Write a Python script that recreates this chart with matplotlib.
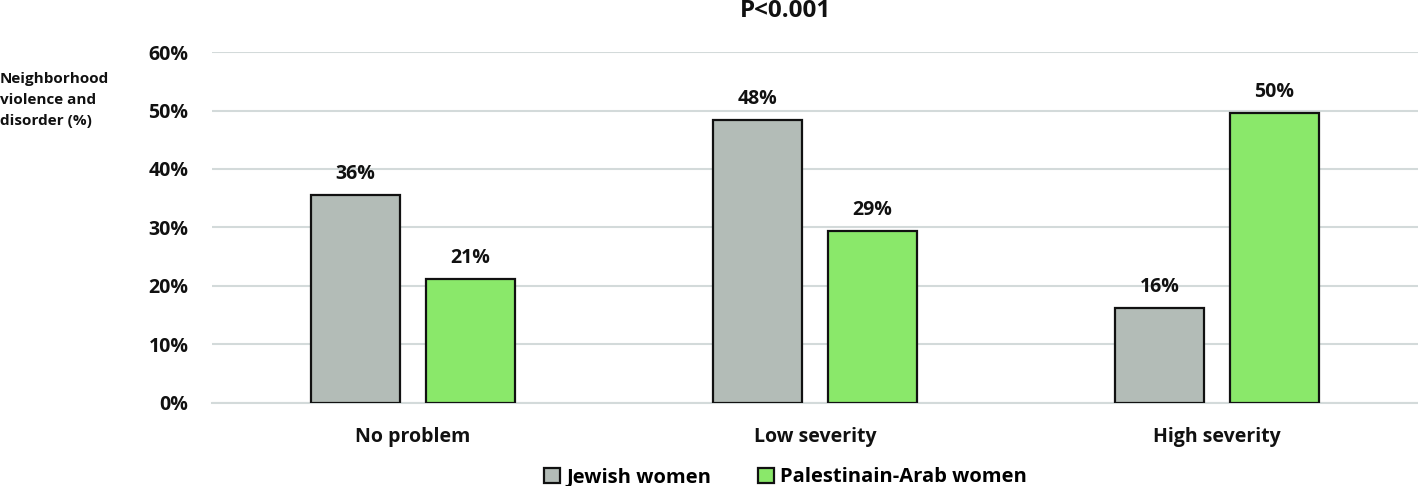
import matplotlib
matplotlib.use("Agg")
import matplotlib.pyplot as plt
import numpy as np

categories = ["No problem", "Low severity", "High severity"]
series_names = ["Jewish women", "Palestinain-Arab women"]
jewish = [35.6, 48.4, 16.2]
arab = [21.2, 29.4, 49.6]
yticks = [0, 10, 20, 30, 40, 50, 60]

plt.rcParams['font.family'] = ['Open Sans', 'DejaVu Sans']
plt.rcParams['font.weight'] = 'bold'

fig = plt.figure(figsize=(14.18, 4.86), dpi=100)
ax = fig.add_axes([0.1495, 0.1708, 0.8505, 0.7222])

x = np.arange(len(categories))
w = 0.221
off = 0.143
grey = "#B3BCB7"
green = "#8AE86A"
FS = 14
b1 = ax.bar(x - off, jewish, w, color=grey, edgecolor="#111111", linewidth=1.6, label=series_names[0], zorder=3)
b2 = ax.bar(x + off, arab, w, color=green, edgecolor="#111111", linewidth=1.6, label=series_names[1], zorder=3)

for bars, vals in ((b1, jewish), (b2, arab)):
    for rect, v in zip(bars, vals):
        ax.annotate(f"{round(v):d}%", (rect.get_x() + rect.get_width() / 2, v),
                    xytext=(0, 8), textcoords="offset points", ha="center", va="bottom",
                    fontsize=FS, fontweight="bold", color="#111111")

ax.set_xlim(-0.5, 2.5)
ax.set_ylim(0, 60)
ax.set_yticks(yticks)
ax.set_yticklabels([f"{t}%" for t in yticks], fontsize=FS, fontweight="bold", color="#111111")
ax.set_xticks(x)
ax.set_xticklabels(categories, fontsize=FS, fontweight="bold", color="#111111")
ax.tick_params(axis="both", length=0)
ax.tick_params(axis="y", pad=17)
ax.tick_params(axis="x", pad=17)
ax.grid(axis="y", color="#D3DADA", linewidth=1.5, zorder=0)
for s in ["top", "right", "left"]:
    ax.spines[s].set_visible(False)
ax.spines["bottom"].set_color("#D3DADA")
ax.spines["bottom"].set_linewidth(1.5)

fig.text(0.554, 0.978, "P<0.001", ha="center", va="center", fontsize=17.5, fontweight="bold", color="#111111")
fig.text(0.0, 0.794, "Neighborhood\nviolence and\ndisorder (%)", ha="left", va="center",
         fontsize=11, fontweight="bold", color="#111111", linespacing=1.65)

leg = fig.legend(handles=[b1, b2], labels=series_names, loc="center", bbox_to_anchor=(0.554, 0.018),
                 ncol=2, frameon=False, fontsize=14.5, handlelength=0.8, handleheight=0.8,
                 columnspacing=2.3, handletextpad=0.3)
for t in leg.get_texts():
    t.set_fontweight("bold")

fig.savefig("out.png", dpi=100)
